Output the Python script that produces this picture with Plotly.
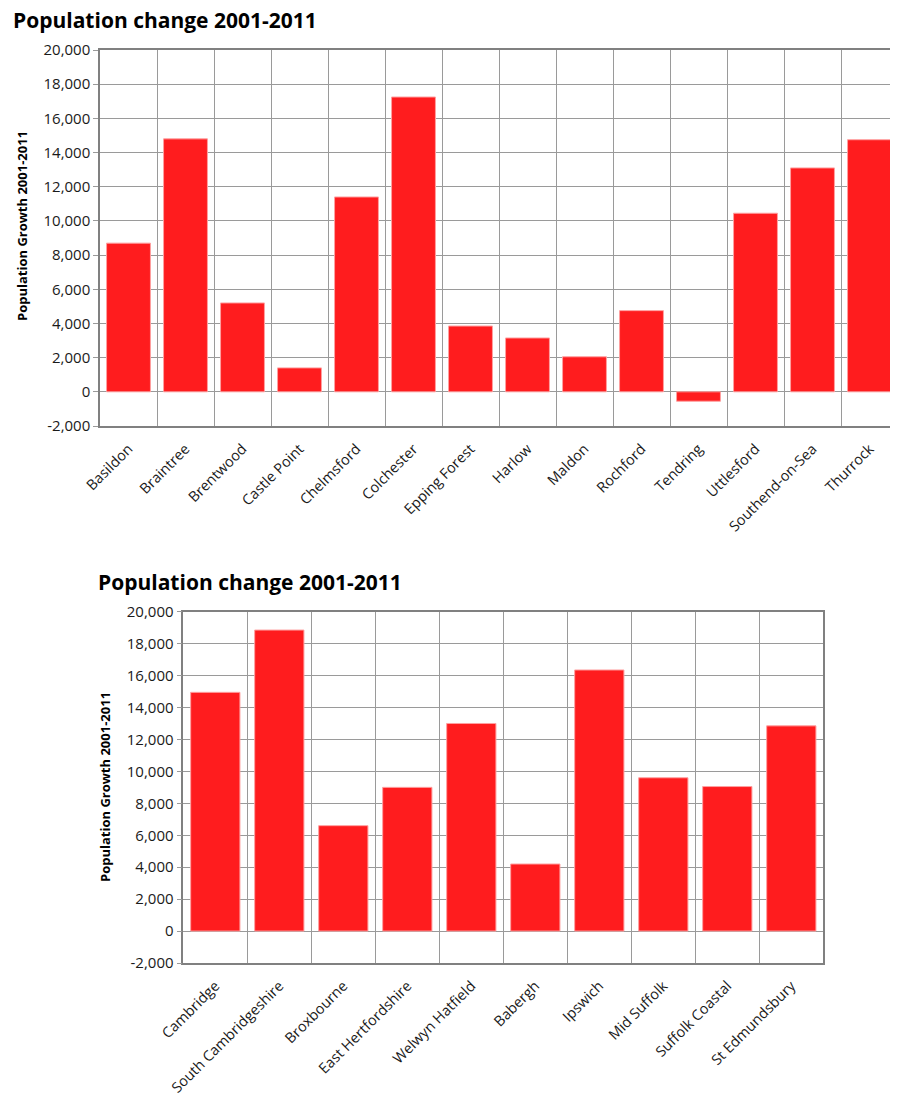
import plotly.graph_objects as go

# ---- data ----
essex_districts = ["Basildon", "Braintree", "Brentwood", "Castle Point", "Chelmsford",
                   "Colchester", "Epping Forest", "Harlow", "Maldon", "Rochford",
                   "Tendring", "Uttlesford", "Southend-on-Sea", "Thurrock"]
essex_growth = [8700, 14800, 5200, 1400, 11400, 17250, 3850, 3150, 2050, 4750,
                -550, 10450, 13100, 14750]

east_districts = ["Cambridge", "South Cambridgeshire", "Broxbourne", "East Hertfordshire",
                  "Welwyn Hatfield", "Babergh", "Ipswich", "Mid Suffolk",
                  "Suffolk Coastal", "St Edmundsbury"]
east_growth = [14950, 18850, 6600, 9000, 13000, 4200, 16350, 9600, 9050, 12850]

y_ticks = [-2000, 0, 2000, 4000, 6000, 8000, 10000, 12000, 14000, 16000, 18000, 20000]
y_tick_text = ["-2,000", "0", "2,000", "4,000", "6,000", "8,000", "10,000",
               "12,000", "14,000", "16,000", "18,000", "20,000"]

chart_title = "Population change 2001-2011"
y_title = "Population Growth 2001-2011"

OFF = 8  # page body margin
W, H = 898 - OFF, 1093 - OFF
BAR = "rgb(255,28,30)"
FONT = "Open Sans"

fig = go.Figure()
fig.add_trace(go.Bar(x=essex_districts, y=essex_growth, xaxis="x", yaxis="y",
                     marker=dict(color=BAR, line=dict(color="rgba(255,160,160,1)", width=1)),
                     showlegend=False))
fig.add_trace(go.Bar(x=east_districts, y=east_growth, xaxis="x2", yaxis="y2",
                     marker=dict(color=BAR, line=dict(color="rgba(255,160,160,1)", width=1)),
                     showlegend=False))

def px_(x):
    return (x - OFF) / W

def py(y):
    return 1 - (y - OFF) / H

xcommon = dict(type="category", tickson="boundaries", showgrid=True, gridcolor="#9a9a9a",
               gridwidth=1, showline=True, linecolor="#808080", linewidth=1.5, mirror=True,
               tickangle=-45, ticks="", ticklabelstandoff=7,
               tickfont=dict(family=FONT, size=14.5, color="#1a1a1a"), automargin=False)
ycommon = dict(range=[-2000, 20000], tickvals=y_ticks, ticktext=y_tick_text,
               showgrid=True, gridcolor="#9a9a9a", gridwidth=1, zeroline=False,
               showline=True, linecolor="#808080", linewidth=1.5, mirror=True,
               ticks="outside", ticklen=5, tickcolor="#9a9a9a",
               tickfont=dict(family=FONT, size=15, color="#1a1a1a"), automargin=False)

fig.update_layout(
    width=W, height=H,
    margin=dict(l=0, r=0, t=0, b=0),
    paper_bgcolor="white", plot_bgcolor="white",
    bargap=0.23,
    xaxis=dict(domain=[px_(100), 1.0], anchor="y", **xcommon),
    yaxis=dict(domain=[py(426), py(50)], anchor="x", **ycommon),
    xaxis2=dict(domain=[px_(183.3), px_(823.3)], anchor="y2", **xcommon),
    yaxis2=dict(domain=[py(963), py(611.7)], anchor="x2", **ycommon),
    annotations=[
        dict(text="<b>" + chart_title + "</b>", x=px_(11), y=py(20), xref="paper", yref="paper",
             xanchor="left", yanchor="middle", showarrow=False,
             font=dict(family=FONT, size=21, color="black")),
        dict(text="<b>" + chart_title + "</b>", x=px_(96), y=py(582), xref="paper", yref="paper",
             xanchor="left", yanchor="middle", showarrow=False,
             font=dict(family=FONT, size=21, color="black")),
        dict(text="<b>" + y_title + "</b>", x=px_(22), y=py(226), xref="paper", yref="paper",
             xanchor="center", yanchor="middle", showarrow=False, textangle=-90,
             font=dict(family=FONT, size=13, color="black")),
        dict(text="<b>" + y_title + "</b>", x=px_(105), y=py(787), xref="paper", yref="paper",
             xanchor="center", yanchor="middle", showarrow=False, textangle=-90,
             font=dict(family=FONT, size=13, color="black")),
    ],
)

fig.write_html("out.html")
